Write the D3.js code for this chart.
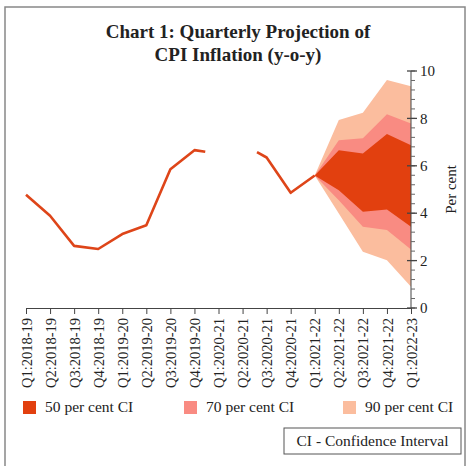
<!DOCTYPE html>
<html>
<head>
<meta charset="utf-8">
<script src="https://cdn.jsdelivr.net/npm/d3@7"></script>
<style>
  body { margin: 0; background: #fff; }
  text { font-family: "Liberation Serif", serif; fill: #222; }
</style>
</head>
<body>
<div id="chart"></div>
<script>
  const quarters = ["Q1:2018-19", "Q2:2018-19", "Q3:2018-19", "Q4:2018-19",
    "Q1:2019-20", "Q2:2019-20", "Q3:2019-20", "Q4:2019-20",
    "Q1:2020-21", "Q2:2020-21", "Q3:2020-21", "Q4:2020-21",
    "Q1:2021-22", "Q2:2021-22", "Q3:2021-22", "Q4:2021-22", "Q1:2022-23"];

  // actual CPI, two pieces (gap around Q1:2020-21)
  const histPos = [0, 1, 2, 3, 4, 5, 6, 7, 7.45];
  const histVal = [4.78, 3.89, 2.62, 2.49, 3.12, 3.49, 5.85, 6.66, 6.59];
  const recentPos = [9.6, 10, 11, 12];
  const recentVal = [6.58, 6.35, 4.86, 5.59];

  // fan chart
  const fanPos = [12, 13, 14, 15, 16];
  const ci50Lo = [5.59, 4.97, 4.06, 4.16, 3.43];
  const ci50Hi = [5.59, 6.66, 6.52, 7.34, 6.87];
  const ci70Lo = [5.59, 4.55, 3.43, 3.29, 2.47];
  const ci70Hi = [5.59, 7.08, 7.16, 8.18, 7.79];
  const ci90Lo = [5.59, 3.99, 2.37, 2.02, 0.90];
  const ci90Hi = [5.59, 7.93, 8.24, 9.62, 9.36];

  const yTicks = [0, 2, 4, 6, 8, 10];
  const legendLabels = ["50 per cent CI", "70 per cent CI", "90 per cent CI"];
  const bandColors = ["#e2400f", "#f98b82", "#fbbd9e"];

  const W = 467, H = 466;

  const svg = d3.select("#chart")
    .append("svg")
    .attr("width", W)
    .attr("height", H);

  // outer frame
  svg.append("rect")
    .attr("x", 5).attr("y", 7)
    .attr("width", 460).attr("height", 470)
    .attr("fill", "none")
    .attr("stroke", "#888")
    .attr("stroke-width", 1.5);

  svg.append("text")
    .attr("x", 238).attr("y", 38)
    .attr("text-anchor", "middle")
    .style("font-size", "19px")
    .style("font-weight", "bold")
    .text("Chart 1: Quarterly Projection of");

  svg.append("text")
    .attr("x", 238).attr("y", 61)
    .attr("text-anchor", "middle")
    .style("font-size", "19px")
    .style("font-weight", "bold")
    .text("CPI Inflation (y-o-y)");

  const x = d3.scaleLinear()
    .domain([0, quarters.length - 1])
    .range([26, 411]);

  const y = d3.scaleLinear()
    .domain([0, 10])
    .range([308, 71]);

  // fan bands
  const bands = [
    { lo: ci90Lo, hi: ci90Hi, color: bandColors[2] },
    { lo: ci70Lo, hi: ci70Hi, color: bandColors[1] },
    { lo: ci50Lo, hi: ci50Hi, color: bandColors[0] }
  ];

  const area = d3.area()
    .x(d => x(d.p))
    .y0(d => y(d.lo))
    .y1(d => y(d.hi));

  bands.forEach(b => {
    const pts = fanPos.map((p, i) => ({ p: p, lo: b.lo[i], hi: b.hi[i] }));
    svg.append("path")
      .datum(pts)
      .attr("d", area)
      .attr("fill", b.color);
  });

  // actual line
  const line = d3.line()
    .x(d => x(d.p))
    .y(d => y(d.v));

  [[histPos, histVal], [recentPos, recentVal]].forEach(([ps, vs]) => {
    svg.append("path")
      .datum(ps.map((p, i) => ({ p: p, v: vs[i] })))
      .attr("d", line)
      .attr("fill", "none")
      .attr("stroke", "#de4519")
      .attr("stroke-width", 2.6)
      .attr("stroke-linejoin", "round");
  });

  // x axis
  const xAxis = svg.append("g")
    .attr("transform", `translate(0,${y(0)})`)
    .call(d3.axisBottom(x)
      .tickValues(d3.range(quarters.length))
      .tickFormat(i => quarters[i])
      .tickSizeOuter(0)
      .tickSize(6));

  xAxis.select(".domain").attr("stroke", "#444");
  xAxis.selectAll(".tick line").attr("stroke", "#444");
  xAxis.selectAll(".tick text")
    .attr("transform", "rotate(-90)")
    .attr("x", -10)
    .attr("y", 0)
    .attr("dy", "0.35em")
    .attr("text-anchor", "end")
    .style("font-family", "Liberation Serif, serif")
    .style("font-size", "14.5px")
    .attr("fill", "#222");

  // y axis on the right
  const yAxisG = svg.append("g")
    .attr("transform", `translate(${x(16)},0)`);

  yAxisG.append("line")
    .attr("x1", 0).attr("x2", 0)
    .attr("y1", y(0)).attr("y2", y(10))
    .attr("stroke", "#444");

  yAxisG.selectAll(".minor")
    .data(d3.range(0, 10.01, 0.4))
    .enter()
    .append("line")
    .attr("x1", 0).attr("x2", 4)
    .attr("y1", d => y(d)).attr("y2", d => y(d))
    .attr("stroke", "#666");

  yAxisG.selectAll(".major")
    .data(yTicks)
    .enter()
    .append("line")
    .attr("x1", -4).attr("x2", 6)
    .attr("y1", d => y(d)).attr("y2", d => y(d))
    .attr("stroke", "#444")
    .attr("stroke-width", 1.3);

  yAxisG.selectAll(".ylab")
    .data(yTicks)
    .enter()
    .append("text")
    .attr("x", 9)
    .attr("y", d => y(d))
    .attr("dy", "0.35em")
    .style("font-size", "15px")
    .text(d => d);

  svg.append("text")
    .attr("transform", `translate(456,${y(5)}) rotate(-90)`)
    .attr("text-anchor", "middle")
    .style("font-size", "15px")
    .text("Per cent");

  // legend
  const legendX = [23, 184, 343];
  legendLabels.forEach((lab, i) => {
    svg.append("rect")
      .attr("x", legendX[i]).attr("y", 401)
      .attr("width", 13).attr("height", 13)
      .attr("fill", bandColors[i]);
    svg.append("text")
      .attr("x", legendX[i] + 22).attr("y", 412)
      .style("font-size", "15.5px")
      .text(lab);
  });

  svg.append("rect")
    .attr("x", 284).attr("y", 428)
    .attr("width", 177).attr("height", 26)
    .attr("fill", "none")
    .attr("stroke", "#555");

  svg.append("text")
    .attr("x", 372.5).attr("y", 446)
    .attr("text-anchor", "middle")
    .style("font-size", "15.5px")
    .text("CI - Confidence Interval");
</script>
</body>
</html>
